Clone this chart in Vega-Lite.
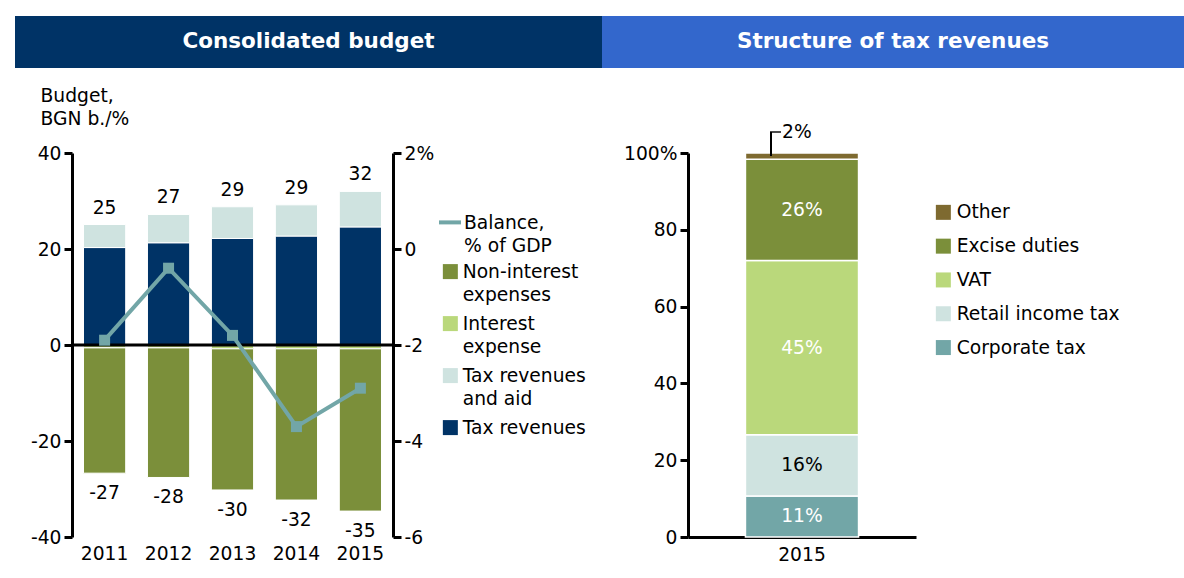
{
  "$schema": "https://vega.github.io/schema/vega-lite/v6.json",
  "background": "white",
  "padding": {"left": 15, "top": 16, "right": 0, "bottom": 0},
  "config": {
    "font": "DejaVu Sans",
    "locale": {"number": {"decimal": ".", "thousands": ",", "grouping": [3], "currency": ["$", ""], "minus": "-"}},
    "view": {"stroke": null},
    "style": {"guide-label": {"lineHeight": 23}},
    "axis": {"labelFont": "DejaVu Sans", "labelFontSize": 18.7, "labelColor": "#000000", "domainColor": "#000000", "domainWidth": 3, "tickColor": "#000000", "tickWidth": 3, "tickSize": 8, "grid": false, "titleFont": "DejaVu Sans", "titleFontSize": 18.7, "titleFontWeight": "normal", "titleColor": "#000000"},
    "legend": {"labelFont": "DejaVu Sans", "labelFontSize": 18.7, "labelColor": "#000000", "labelLimit": 300},
    "title": {"font": "DejaVu Sans"}
  },
  "datasets": {
    "budget": [
      {"year": 2011, "series": "Tax revenues", "value": 20.3},
      {"year": 2011, "series": "Tax revenues and aid", "value": 4.8},
      {"year": 2011, "series": "Interest expense", "value": -0.6},
      {"year": 2011, "series": "Non-interest expenses", "value": -26.1},
      {"year": 2012, "series": "Tax revenues", "value": 21.3},
      {"year": 2012, "series": "Tax revenues and aid", "value": 5.9},
      {"year": 2012, "series": "Interest expense", "value": -0.6},
      {"year": 2012, "series": "Non-interest expenses", "value": -27.0},
      {"year": 2013, "series": "Tax revenues", "value": 22.2},
      {"year": 2013, "series": "Tax revenues and aid", "value": 6.6},
      {"year": 2013, "series": "Interest expense", "value": -0.8},
      {"year": 2013, "series": "Non-interest expenses", "value": -29.4},
      {"year": 2014, "series": "Tax revenues", "value": 22.7},
      {"year": 2014, "series": "Tax revenues and aid", "value": 6.5},
      {"year": 2014, "series": "Interest expense", "value": -0.8},
      {"year": 2014, "series": "Non-interest expenses", "value": -31.5},
      {"year": 2015, "series": "Tax revenues", "value": 24.6},
      {"year": 2015, "series": "Tax revenues and aid", "value": 7.4},
      {"year": 2015, "series": "Interest expense", "value": -0.8},
      {"year": 2015, "series": "Non-interest expenses", "value": -33.8}
    ],
    "balance": [
      {"year": 2011, "series": "Balance, % of GDP", "value": -1.9},
      {"year": 2012, "series": "Balance, % of GDP", "value": -0.4},
      {"year": 2013, "series": "Balance, % of GDP", "value": -1.8},
      {"year": 2014, "series": "Balance, % of GDP", "value": -3.7},
      {"year": 2015, "series": "Balance, % of GDP", "value": -2.9}
    ],
    "taxes": [
      {"year": 2015, "category": "Corporate tax", "share": 10.7},
      {"year": 2015, "category": "Retail income tax", "share": 15.9},
      {"year": 2015, "category": "VAT", "share": 45.4},
      {"year": 2015, "category": "Excise duties", "share": 26.4},
      {"year": 2015, "category": "Other", "share": 1.6}
    ]
  },
  "columns": 1,
  "align": "none",
  "spacing": 18,
  "resolve": {"scale": {"fill": "independent", "stroke": "independent"}, "legend": {"fill": "independent", "stroke": "independent"}},
  "concat": [
    {
      "spacing": 0,
      "hconcat": [
        {
          "width": 587, "height": 52,
          "view": {"fill": "#003366", "stroke": null},
          "data": {"values": [{"title": "Consolidated budget"}]},
          "mark": {"type": "text", "color": "white", "fontWeight": "bold", "fontSize": 21.5, "font": "DejaVu Sans"},
          "encoding": {"text": {"field": "title"}}
        },
        {
          "width": 582, "height": 52,
          "view": {"fill": "#3367cc", "stroke": null},
          "data": {"values": [{"title": "Structure of tax revenues"}]},
          "mark": {"type": "text", "color": "white", "fontWeight": "bold", "fontSize": 21.5, "font": "DejaVu Sans"},
          "encoding": {"text": {"field": "title"}}
        }
      ]
    },
    {
      "spacing": 0,
      "resolve": {"scale": {"fill": "independent", "stroke": "independent"}, "legend": {"fill": "independent", "stroke": "independent"}},
      "hconcat": [
        {
          "width": 1, "height": 384,
          "data": {"values": []},
          "mark": {"type": "point"}
        },
        {
          "width": 321, "height": 384,
          "title": {"text": " ", "orient": "bottom", "anchor": "start", "frame": "group", "dx": -56, "fontSize": 10},
          "layer": [
            {
              "layer": [
                {
                  "data": {"name": "budget"},
                  "mark": {"type": "bar", "stroke": "white", "strokeWidth": 1},
                  "encoding": {
                    "x": {"field": "year", "type": "ordinal", "title": null, "scale": {"paddingInner": 0.34, "paddingOuter": 0.18}, "axis": {"domain": false, "ticks": false, "labelAngle": 0, "labelPadding": 7}},
                    "y": {"field": "value", "type": "quantitative", "scale": {"domain": [-40, 40]}, "title": ["Budget,", "BGN b./%"], "axis": {"values": [-40, -20, 0, 20, 40], "labelPadding": 3, "titleAngle": 0, "titleAlign": "left", "titleBaseline": "top", "titleX": -32, "titleY": -67, "titleLineHeight": 23}},
                    "order": {"field": "series", "type": "nominal", "sort": "ascending"},
                    "fill": {"field": "series", "type": "nominal",
                      "scale": {"domain": ["Non-interest expenses", "Interest expense", "Tax revenues and aid", "Tax revenues"], "range": ["#7b8f3a", "#bad87b", "#cfe3e0", "#003366"]},
                      "legend": {"orient": "none", "legendX": 369, "legendY": 116, "title": null, "symbolType": "M-1,-1.9H1V0.1H-1Z", "symbolSize": 225, "symbolStrokeWidth": 0, "labelOffset": 3, "labelBaseline": "alphabetic", "rowPadding": 9,
                        "labelExpr": "datum.label == 'Non-interest expenses' ? ['Non-interest', 'expenses'] : datum.label == 'Interest expense' ? ['Interest', 'expense'] : datum.label == 'Tax revenues and aid' ? ['Tax revenues', 'and aid'] : datum.label"}}
                  }
                },
                {
                  "data": {"name": "budget"},
                  "transform": [{"filter": "datum.value > 0"}, {"aggregate": [{"op": "sum", "field": "value", "as": "total"}], "groupby": ["year"]}],
                  "mark": {"type": "text", "dy": -17, "fontSize": 18.7, "color": "black", "baseline": "middle"},
                  "encoding": {
                    "x": {"field": "year", "type": "ordinal", "title": null},
                    "y": {"field": "total", "type": "quantitative", "title": ["Budget,", "BGN b./%"]},
                    "text": {"field": "total", "type": "quantitative", "format": ".0f"}
                  }
                },
                {
                  "data": {"name": "budget"},
                  "transform": [{"filter": "datum.value < 0"}, {"aggregate": [{"op": "sum", "field": "value", "as": "total"}], "groupby": ["year"]}],
                  "mark": {"type": "text", "dy": 20, "fontSize": 18.7, "color": "black", "baseline": "middle"},
                  "encoding": {
                    "x": {"field": "year", "type": "ordinal", "title": null},
                    "y": {"field": "total", "type": "quantitative", "title": ["Budget,", "BGN b./%"]},
                    "text": {"field": "total", "type": "quantitative", "format": ".0f"}
                  }
                },
                {
                  "data": {"values": [{}]},
                  "mark": {"type": "rule", "color": "black", "strokeWidth": 3},
                  "encoding": {"y": {"datum": 0}}
                }
              ]
            },
            {
              "layer": [
                {
                  "data": {"name": "balance"},
                  "mark": {"type": "line", "strokeWidth": 4},
                  "encoding": {
                    "x": {"field": "year", "type": "ordinal", "title": null},
                    "y": {"field": "value", "type": "quantitative", "scale": {"domain": [-6, 2]}, "title": null, "axis": {"orient": "right", "values": [-6, -4, -2, 0, 2], "labelPadding": 3, "labelExpr": "datum.value == 2 ? '2%' : datum.label"}},
                    "stroke": {"field": "series", "type": "nominal", "scale": {"range": ["#72a6a7"]},
                      "legend": {"orient": "none", "legendX": 365, "legendY": 63, "title": null, "symbolType": "M-1,-0.6L1,-0.6", "symbolSize": 484, "symbolStrokeWidth": 4, "labelOffset": 1, "labelBaseline": "alphabetic", "labelExpr": "['Balance,', '% of GDP']"}}
                  }
                },
                {
                  "data": {"name": "balance"},
                  "mark": {"type": "square", "size": 121, "color": "#72a6a7", "opacity": 1},
                  "encoding": {
                    "x": {"field": "year", "type": "ordinal", "title": null},
                    "y": {"field": "value", "type": "quantitative", "title": null}
                  }
                }
              ]
            }
          ],
          "resolve": {"scale": {"y": "independent"}}
        },
        {
          "width": 228, "height": 384,
          "data": {"name": "taxes"},
          "transform": [
            {"stack": "share", "groupby": ["year"], "as": ["s0", "s1"]},
            {"calculate": "(datum.s0 + datum.s1) / 2", "as": "mid"},
            {"calculate": "format(datum.share, '.0f') + '%'", "as": "label"}
          ],
          "layer": [
            {
              "mark": {"type": "bar", "stroke": "white", "strokeWidth": 1.5},
              "encoding": {
                "x": {"field": "year", "type": "ordinal", "title": null, "scale": {"paddingInner": 0.5, "paddingOuter": 0.254}, "axis": {"labelAngle": 0, "ticks": false, "labelPadding": 8}},
                "y": {"field": "s0", "type": "quantitative", "scale": {"domain": [0, 100]}, "title": " ", "axis": {"values": [0, 20, 40, 60, 80, 100], "labelPadding": 3, "labelExpr": "datum.value == 100 ? '100%' : datum.label", "titleAngle": 0, "titleAlign": "left", "titleBaseline": "top", "titleX": -102, "titleY": 100, "titleFontSize": 10}},
                "y2": {"field": "s1"},
                "fill": {"field": "category", "type": "nominal",
                  "scale": {"domain": ["Other", "Excise duties", "VAT", "Retail income tax", "Corporate tax"], "range": ["#7e6a30", "#7b8f3a", "#bad87b", "#cfe3e0", "#72a6a7"]},
                  "legend": {"orient": "none", "legendX": 246, "legendY": 50, "title": null, "symbolType": "square", "symbolSize": 225, "symbolStrokeWidth": 0, "labelOffset": 4, "rowPadding": 13.8}}
              }
            },
            {
              "transform": [{"filter": "datum.category != 'Other'"}],
              "mark": {"type": "text", "fontSize": 18.7, "baseline": "middle"},
              "encoding": {
                "x": {"field": "year", "type": "ordinal", "title": null},
                "y": {"field": "mid", "type": "quantitative", "title": " "},
                "text": {"field": "label"},
                "color": {"condition": {"test": "datum.category == 'Retail income tax'", "value": "black"}, "value": "white"}
              }
            },
            {
              "transform": [{"filter": "datum.category == 'Other'"}],
              "mark": {"type": "text", "fontSize": 18.7, "align": "left", "baseline": "middle", "dx": -20, "dy": -21, "color": "black"},
              "encoding": {
                "x": {"field": "year", "type": "ordinal", "title": null},
                "y": {"field": "s1", "type": "quantitative", "title": " "},
                "text": {"field": "label"}
              }
            },
            {
              "transform": [{"filter": "datum.category == 'Other'"}],
              "mark": {"type": "rule", "color": "black", "strokeWidth": 2, "xOffset": -31, "y2Offset": -21},
              "encoding": {
                "x": {"field": "year", "type": "ordinal", "title": null},
                "y": {"field": "mid", "type": "quantitative", "title": " "},
                "y2": {"field": "s1"}
              }
            },
            {
              "transform": [{"filter": "datum.category == 'Other'"}],
              "mark": {"type": "tick", "color": "black", "thickness": 2, "size": 11, "xOffset": -26.5, "yOffset": -21},
              "encoding": {
                "x": {"field": "year", "type": "ordinal", "title": null},
                "y": {"field": "s1", "type": "quantitative", "title": " "}
              }
            }
          ]
        }
      ]
    }
  ]
}
